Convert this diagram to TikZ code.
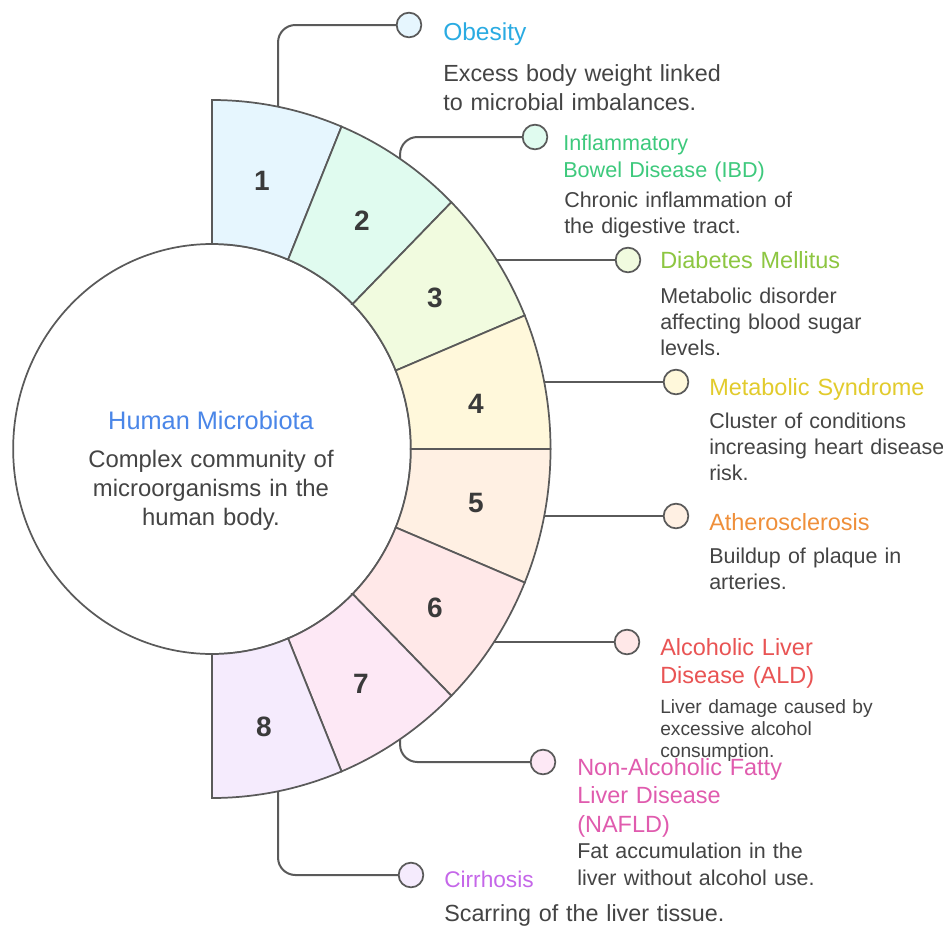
\documentclass[tikz,border=0pt]{standalone}
\usepackage{fontspec}
\setmainfont{Liberation Sans}
\definecolor{lineg}{HTML}{5A5A5A}
\definecolor{txtg}{HTML}{444444}
\definecolor{numg}{HTML}{3A3A3A}
\definecolor{f1}{HTML}{E6F6FE}
\definecolor{f2}{HTML}{E0FBEF}
\definecolor{f3}{HTML}{F1FBDF}
\definecolor{f4}{HTML}{FFF8DB}
\definecolor{f5}{HTML}{FFF0E3}
\definecolor{f6}{HTML}{FFE8E8}
\definecolor{f7}{HTML}{FDE8F5}
\definecolor{f8}{HTML}{F5EBFD}
\definecolor{t1}{HTML}{2AABE2}
\definecolor{t2}{HTML}{3DC97C}
\definecolor{t3}{HTML}{8DC641}
\definecolor{t4}{HTML}{E2CB2C}
\definecolor{t5}{HTML}{EF8F3A}
\definecolor{t6}{HTML}{E95454}
\definecolor{t7}{HTML}{E05BAE}
\definecolor{t8}{HTML}{C567E9}
\definecolor{tc}{HTML}{4A86E8}
\tikzset{
  ring/.style={draw=lineg, line width=1.3pt},
  conn/.style={draw=lineg, line width=1.5pt, rounded corners=13pt},
  dot/.style={circle, draw=lineg, line width=1.3pt, minimum size=18.5pt, inner sep=0pt},
  num/.style={font=\fontsize{21}{25}\selectfont\bfseries, text=numg},
  blk/.style={anchor=base west, align=left, text width=300pt, inner sep=0pt},
  ttl/.style={blk, font=\fontsize{17.6}{21}\selectfont},
  dsc/.style={blk, text=txtg, font=\fontsize{16.1}{19.5}\selectfont},
  dscl/.style={blk, text=txtg, font=\fontsize{17.5}{21.75}\selectfont},
}
\begin{document}
\begin{tikzpicture}[x=0.75pt,y=0.75pt]
\useasboundingbox (0,0) rectangle (943,-929);
\fill[white] (0,0) rectangle (943,-929);
\begin{scope}[shift={(212,-449)}, xscale=0.97]
  \draw[ring, fill=white] (0,0) circle[radius=205];
  \foreach \i/\c in {1/f1,2/f2,3/f3,4/f4,5/f5,6/f6,7/f7,8/f8}{
    \pgfmathsetmacro\sa{90-22.5*(\i-1)}
    \pgfmathsetmacro\ea{90-22.5*\i}
    \draw[ring, fill=\c] (\sa:205) -- (\sa:349) arc[start angle=\sa, end angle=\ea, radius=349]
      -- (\ea:205) arc[start angle=\ea, end angle=\sa, radius=205] -- cycle;
  }
  \coordinate (a1) at (78.75:349);
  \coordinate (a2) at (56.25:349);
  \coordinate (a3) at (32.8:349);
  \coordinate (a4) at (11.1:349);
  \coordinate (a5) at (-11.1:349);
  \coordinate (a6) at (-33.6:349);
  \coordinate (a7) at (-56.25:349);
  \coordinate (a8) at (-78.75:349);
\end{scope}

% segment numbers
\foreach \i/\x/\y in {1/262/181, 2/362/221, 3/435/298, 4/476/404, 5/476/503, 6/435/608, 7/361/684, 8/264/727}{
  \node[num] (n\i) at (\x,-\y) {\i};
}

% centre text
\node[anchor=base, align=center, inner sep=0pt, text=tc, font=\fontsize{19}{23}\selectfont] (ct) at (211,-429) {Human Microbiota};
\node[anchor=base, align=center, text width=300pt, inner sep=0pt, text=txtg, font=\fontsize{17.9}{21.75}\selectfont] (cd) at (211,-467) {Complex community of\\microorganisms in the\\human body.};

% dots
\node[dot, fill=f1] (d1) at (409,-25) {};
\node[dot, fill=f2] (d2) at (535,-137) {};
\node[dot, fill=f3] (d3) at (628,-260) {};
\node[dot, fill=f4] (d4) at (676,-382) {};
\node[dot, fill=f5] (d5) at (676,-516) {};
\node[dot, fill=f6] (d6) at (627,-642) {};
\node[dot, fill=f7] (d7) at (543,-762) {};
\node[dot, fill=f8] (d8) at (411,-875) {};

% connectors
\draw[conn] (a1) |- (d1);
\draw[conn] (a2) |- (d2);
\draw[conn] (a3) -- (a3 -| d3.west);
\draw[conn] (a4) -- (a4 -| d4.west);
\draw[conn] (a5) -- (a5 -| d5.west);
\draw[conn] (a6) -- (a6 -| d6.west);
\draw[conn] (a7) |- (d7);
\draw[conn] (a8) |- (d8);

% labels
\node[ttl, text=t1, font=\fontsize{18.4}{22}\selectfont] (l1) at (443,-40) {Obesity};
\node[dscl] (s1) at (443,-81) {Excess body weight linked\\to microbial imbalances.};

\node[ttl, text=t2, font=\fontsize{16.2}{20.25}\selectfont] (l2) at (563,-150) {Inflammatory\\Bowel Disease (IBD)};
\node[dsc] (s2) at (564,-207) {Chronic inflammation of\\the digestive tract.};

\node[ttl, text=t3] (l3) at (660,-268) {Diabetes Mellitus};
\node[dsc] (s3) at (660,-303) {Metabolic disorder\\affecting blood sugar\\levels.};

\node[ttl, text=t4] (l4) at (709,-395) {Metabolic Syndrome};
\node[dsc] (s4) at (709,-428) {Cluster of conditions\\increasing heart disease\\risk.};

\node[ttl, text=t5] (l5) at (709,-530) {Atherosclerosis};
\node[dsc] (s5) at (709,-563) {Buildup of plaque in\\arteries.};

\node[ttl, text=t6] (l6) at (660,-655) {Alcoholic Liver\\Disease (ALD)};
\node[dsc, font=\fontsize{14.4}{16.5}\selectfont] (s6) at (660,-713) {Liver damage caused by\\excessive alcohol\\consumption.};

\node[ttl, text=t7, font=\fontsize{17.6}{21.4}\selectfont] (l7) at (577,-775) {Non-Alcoholic Fatty\\Liver Disease\\(NAFLD)};
\node[dsc, font=\fontsize{16.1}{20.25}\selectfont] (s7) at (577,-858) {Fat accumulation in the\\liver without alcohol use.};

\node[ttl, text=t8, font=\fontsize{17}{21}\selectfont] (l8) at (444,-887) {Cirrhosis};
\node[dscl] (s8) at (444,-921) {Scarring of the liver tissue.};
\end{tikzpicture}
\end{document}
